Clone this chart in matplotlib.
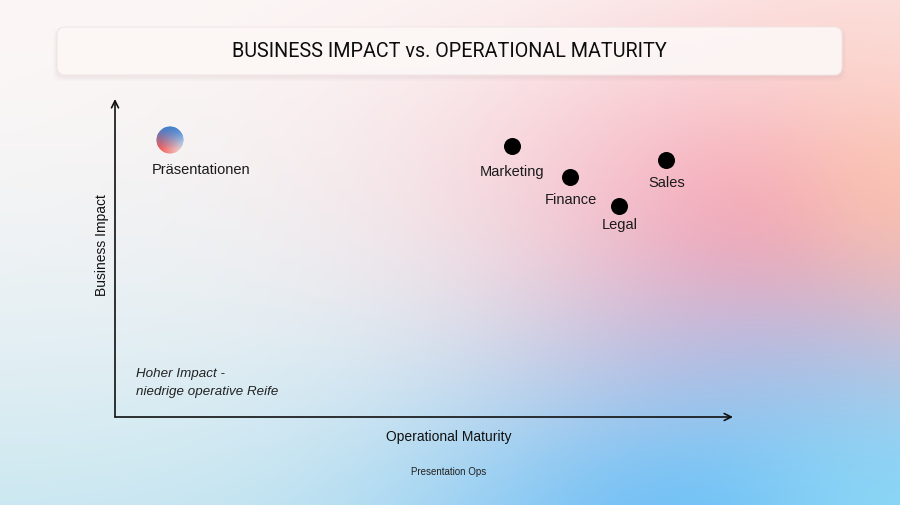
import matplotlib
matplotlib.use("Agg")
import matplotlib.pyplot as plt
import numpy as np
from matplotlib.patches import FancyBboxPatch
from matplotlib.offsetbox import OffsetImage, AnnotationBbox

# data (0-100 scale on both axes)
teams = ["Marketing", "Finance", "Legal", "Sales"]
maturity = [64.2, 73.7, 81.6, 89.2]
impact = [85.3, 75.6, 66.4, 80.8]
focus_label = "Präsentationen"
focus_maturity = 8.9
focus_impact = 87.1

# label drop below each dot, in pixels (layout only)
label_drop = {"Marketing": 29, "Finance": 26, "Legal": 22.5, "Sales": 26}

W, H = 900, 506
PX = 72 / 100  # points per pixel


def hex_rgb(h):
    h = h.lstrip("#")
    return np.array([int(h[i:i + 2], 16) for i in (0, 2, 4)]) / 255.0


def background():
    yy, xx = np.mgrid[0:H, 0:W].astype(float)
    t = ((yy / H) ** 1.7)[..., None]
    img = hex_rgb("#fcf7f6") * (1 - t) + hex_rgb("#cce8f1") * t
    blobs = [
        # x, y, sx, sy, colour, strength
        (640, 170, 230, 110, "#f9d0d6", 0.55),
        (800, 245, 170, 130, "#f7a2b4", 1.0),
        (900, 190, 90, 110, "#fcc0aa", 0.85),
        (900, 40, 160, 80, "#fcdcd6", 0.6),
        (770, 360, 160, 70, "#c9b8df", 0.55),
        (720, 540, 220, 120, "#6cbdf6", 1.0),
        (900, 520, 120, 100, "#8ad8f7", 0.8),
    ]
    for bx, by, sx, sy, col, s in blobs:
        a = s * np.exp(-(((xx - bx) / sx) ** 2 + ((yy - by) / sy) ** 2) / 2)
        img = img * (1 - a[..., None]) + hex_rgb(col) * a[..., None]
    return np.clip(img, 0, 1)


def gradient_dot(n=60):
    yy, xx = np.mgrid[0:n, 0:n].astype(float) / (n - 1)
    red = hex_rgb("#f5605a")
    blue = hex_rgb("#3f7fcf")
    white = hex_rgb("#e8f6fa")
    wr = np.clip(1.2 - xx - (1 - yy) * 0.4, 0, 1)[..., None] * np.clip(yy * 1.4, 0, 1)[..., None]
    wb = np.clip(1.1 - yy * 1.3, 0, 1)[..., None]
    ww = np.clip(xx * 1.2 - 0.2, 0, 1)[..., None] * np.clip(yy, 0, 1)[..., None]
    tot = wr + wb + ww + 1e-6
    rgb = (red * wr + blue * wb + white * ww) / tot
    r = np.hypot(xx - 0.5, yy - 0.5)
    alpha = np.clip((0.5 - r) * n, 0, 1)
    return np.dstack([rgb, alpha])


fig = plt.figure(figsize=(9, 5.06), dpi=100)
bg = fig.add_axes([0, 0, 1, 1])
bg.imshow(background(), aspect="auto", extent=[0, W, H, 0], interpolation="bilinear")
bg.set_xlim(0, W)
bg.set_ylim(H, 0)
bg.axis("off")

# title card with soft shadow
for pad, al in [(4, 0.03), (2.5, 0.04), (1.2, 0.05)]:
    bg.add_patch(FancyBboxPatch((57 - pad, 30 - pad + 2), 785 + 2 * pad, 46 + 2 * pad,
                                boxstyle="round,pad=0,rounding_size=9",
                                fc="#b09090", ec="none", alpha=al))
bg.add_patch(FancyBboxPatch((57, 28), 785, 48, boxstyle="round,pad=0,rounding_size=8",
                            fc="#fdf8f7", ec="#f0e6e4", lw=0.8, alpha=0.93))
bg.text(449, 51, "BUSINESS IMPACT vs. OPERATIONAL MATURITY", ha="center", va="center",
        fontsize=14.2, family="Roboto", color="#0d0d0d")

ax = fig.add_axes([115 / W, (H - 418) / H, (733 - 115) / W, (418 - 100) / H])
ax.set_xlim(0, 100)
ax.set_ylim(0, 100)
ax.patch.set_alpha(0)
for s in ax.spines.values():
    s.set_visible(False)
ax.set_xticks([])
ax.set_yticks([])

arrow = dict(arrowstyle="->,head_length=0.5,head_width=0.25", lw=1.2, color="#111111",
             shrinkA=0, shrinkB=0)
ax.annotate("", xy=(1.0, 0), xytext=(0, 0), xycoords="axes fraction", arrowprops=arrow)
ax.annotate("", xy=(0, 1.0), xytext=(0, 0), xycoords="axes fraction", arrowprops=arrow)

font = "Liberation Sans"
ax.scatter(maturity, impact, s=150, color="#000000", zorder=3, linewidths=0)
for name, x, y in zip(teams, maturity, impact):
    ax.annotate(name, (x, y), xytext=(0, -label_drop[name] * PX), textcoords="offset points",
                ha="center", va="baseline", fontsize=10.5, family=font, color="#1a1a1a")

dot = OffsetImage(gradient_dot(), zoom=20 / 60)
ax.add_artist(AnnotationBbox(dot, (focus_maturity, focus_impact), frameon=False, zorder=3))
ax.annotate(focus_label, (focus_maturity, focus_impact), xytext=(31.5 * PX, -32.5 * PX),
            textcoords="offset points", ha="center", va="baseline",
            fontsize=10.5, family=font, color="#1a1a1a")

ax.text(3.4, 11.0, "Hoher Impact -\nniedrige operative Reife", ha="left", va="center",
        fontsize=9.6, style="italic", family=font, color="#222222", linespacing=1.65)

ax.set_xlabel("Operational Maturity", fontsize=10, family=font, color="#111111")
ax.xaxis.set_label_coords((449 - 115) / (733 - 115), -(437 - 418) / (418 - 100), transform=ax.transAxes)
ax.xaxis.label.set_va("center")
ax.set_ylabel("Business Impact", fontsize=10, family=font, color="#111111")
ax.yaxis.set_label_coords(-(115 - 102.5) / (733 - 115), (418 - 245) / (418 - 100), transform=ax.transAxes)
ax.yaxis.label.set_va("center")

bg.text(449, 472, "Presentation Ops", ha="center", va="center", fontsize=7,
        family=font, color="#222222")

fig.savefig("out.png", dpi=100)
